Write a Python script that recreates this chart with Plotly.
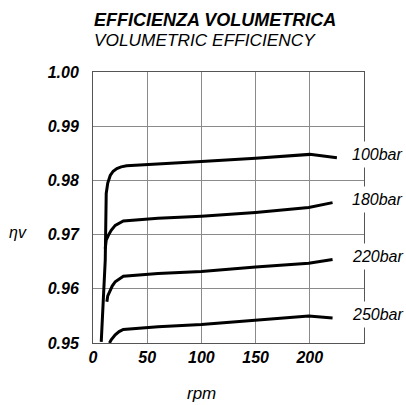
import plotly.graph_objects as go

# ---- data ----
rpm_100 = [7.6, 9.5, 11.3, 12.2, 13.6, 15.9, 18.6, 22, 26, 31, 60, 100, 150, 198, 200, 225]
eff_100 = [0.9502, 0.9575, 0.9653, 0.9776, 0.9795, 0.9809, 0.9817, 0.9822, 0.9825, 0.9827, 0.9830, 0.9835, 0.9841, 0.9848, 0.9848, 0.9842]

rpm_180 = [11.3, 12.2, 14.3, 16.8, 20.5, 28, 60, 100, 150, 199, 221]
eff_180 = [0.9674, 0.9690, 0.9699, 0.9708, 0.9717, 0.9725, 0.9730, 0.9734, 0.9741, 0.9750, 0.9759]

rpm_220 = [12.8, 13.6, 15.2, 17.7, 20.5, 28, 60, 100, 150, 199, 221]
eff_220 = [0.9576, 0.9587, 0.9594, 0.9605, 0.9613, 0.9623, 0.9628, 0.9632, 0.9640, 0.9647, 0.9654]

rpm_250 = [15.2, 16.8, 20.5, 24.1, 28, 60, 100, 150, 199, 221]
eff_250 = [0.9500, 0.9506, 0.9515, 0.9521, 0.9525, 0.9530, 0.9534, 0.9542, 0.9550, 0.9546]

series_names = ["100bar", "180bar", "220bar", "250bar"]
x_ticks = [0, 50, 100, 150, 200]
x_ticklabels = ["0", "50", "100", "150", "200"]
y_ticks = [0.95, 0.96, 0.97, 0.98, 0.99, 1.00]
y_ticklabels = ["0.95", "0.96", "0.97", "0.98", "0.99", "1.00"]

title_it = "EFFICIENZA VOLUMETRICA"
title_en = "VOLUMETRIC EFFICIENCY"
x_title = "rpm"
y_title = "ηv"

FONT = "Liberation Sans, Arial, sans-serif"

PLOT_L, PLOT_R, PLOT_T, PLOT_B = 93, 364, 72, 343
PW = PLOT_R - PLOT_L
PH = PLOT_B - PLOT_T
FIG_W, FIG_H = 406, 405


def px_x(x):
    return (x - PLOT_L) / PW


def px_y(y):
    return (PLOT_B - y) / PH


fig = go.Figure()
all_series = [(rpm_100, eff_100), (rpm_180, eff_180), (rpm_220, eff_220), (rpm_250, eff_250)]
for name, (xs, ys) in zip(series_names, all_series):
    fig.add_trace(go.Scatter(x=xs, y=ys, mode="lines", name=name,
                             line=dict(color="black", width=3),
                             showlegend=False, hoverinfo="skip"))

annotations = []
for name, (xs, ys) in zip(series_names, all_series):
    annotations.append(dict(x=px_x(347), xref="paper", y=ys[-1] + 0.0006, yref="y",
                            text=name, showarrow=False, xanchor="left", yanchor="middle",
                            font=dict(family=FONT, size=16, style="italic", color="black"),
                            bgcolor="white", borderpad=4))

annotations += [
    dict(x=px_x(92), xref="paper", y=px_y(19.5), yref="paper", text=title_it, showarrow=False,
         xanchor="left", yanchor="middle",
         font=dict(family=FONT, size=18, style="italic", weight="bold", color="black")),
    dict(x=px_x(92), xref="paper", y=px_y(40.5), yref="paper", text=title_en, showarrow=False,
         xanchor="left", yanchor="middle",
         font=dict(family=FONT, size=17.3, style="italic", color="black")),
    dict(x=px_x(201), xref="paper", y=px_y(393), yref="paper", text=x_title,
         showarrow=False, xanchor="center", yanchor="middle",
         font=dict(family=FONT, size=17, style="italic", color="black")),
    dict(x=px_x(17.5), xref="paper", y=px_y(233), yref="paper", text=y_title,
         showarrow=False, xanchor="center", yanchor="middle",
         font=dict(family=FONT, size=16, style="italic", color="black")),
]

tickfont = dict(family=FONT, size=16, style="italic", weight="bold", color="black")

fig.update_layout(
    width=FIG_W, height=FIG_H,
    margin=dict(l=PLOT_L, r=FIG_W - PLOT_R, t=PLOT_T, b=FIG_H - PLOT_B),
    paper_bgcolor="white", plot_bgcolor="white",
    annotations=annotations,
    xaxis=dict(range=[0, 250], tickvals=x_ticks, ticktext=x_ticklabels,
               showgrid=True, gridcolor="#8a8a8a", gridwidth=1, zeroline=False,
               showline=True, linecolor="#555", linewidth=1, mirror=True,
               ticks="", tickfont=tickfont, ticklabelstandoff=0),
    yaxis=dict(range=[0.95, 1.00], tickvals=y_ticks, ticktext=y_ticklabels,
               showgrid=True, gridcolor="#8a8a8a", gridwidth=1, zeroline=False,
               showline=True, linecolor="#555", linewidth=1, mirror=True,
               ticks="", tickfont=tickfont, ticklabelstandoff=10),
)

fig.write_html(
    "out.html",
    config={"displayModeBar": False, "staticPlot": True},
    post_script="document.body.style.margin='0';document.body.style.overflow='hidden';",
)
